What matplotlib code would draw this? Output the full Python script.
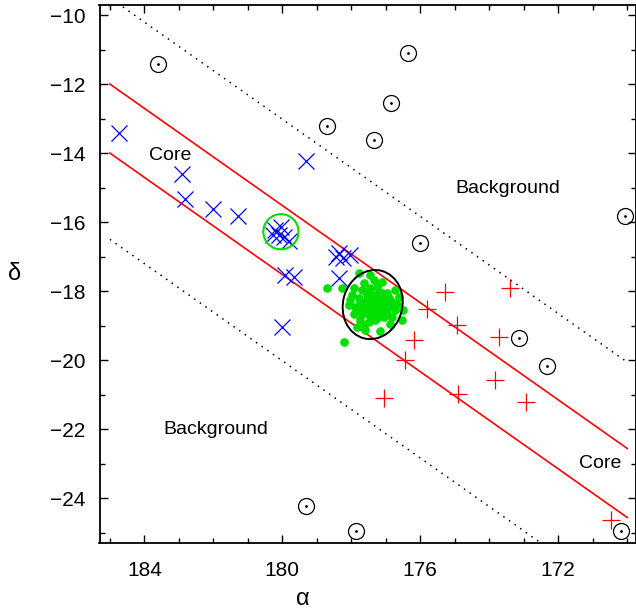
import matplotlib
matplotlib.use("Agg")
import matplotlib.pyplot as plt
from matplotlib.patches import Ellipse, Circle
from matplotlib.ticker import MultipleLocator
import numpy as np

plt.rcParams['font.family'] = ['Liberation Sans', 'DejaVu Sans']

# Background objects (circled dots)
bg_ra = [183.60, 178.70, 177.35, 176.37, 176.85, 176.00, 170.06, 173.13, 172.33, 170.17, 179.30, 177.86]
bg_dec = [-11.43, -13.22, -13.62, -11.09, -12.56, -16.62, -15.83, -19.35, -20.17, -24.95, -24.23, -24.95]

# Blue crosses
blue_ra = [184.74, 182.91, 182.81, 182.02, 181.28, 179.30,
           180.20, 180.04, 180.11, 179.96, 179.82, 180.27,
           179.91, 179.65, 178.37,
           178.45, 178.25, 178.05, 178.35, 180.01]
blue_dec = [-13.43, -14.61, -15.33, -15.63, -15.83, -14.23,
            -16.23, -16.14, -16.38, -16.44, -16.54, -16.38,
            -17.54, -17.58, -17.63,
            -17.00, -17.05, -16.95, -16.90, -19.05]

# Red pluses
red_ra = [175.28, 173.39, 175.81, 174.94, 176.19, 173.73, 176.43, 173.84, 174.92, 172.94, 177.06, 170.47]
red_dec = [-18.04, -17.92, -18.52, -18.99, -19.42, -19.34, -20.00, -20.58, -20.97, -21.21, -21.11, -24.64]

# Green cluster members
green_ra = [178.69, 178.27, 177.79, 177.45, 177.35, 177.11, 177.64, 177.93, 177.69, 177.45,
            177.21, 176.97, 176.73, 176.63, 176.82, 177.06, 177.31, 177.55, 177.79, 177.98,
            178.08, 177.89, 177.64, 177.40, 177.16, 176.92, 176.68, 176.50, 177.93, 177.69,
            177.45, 177.21, 176.97, 176.82, 177.74, 177.50, 177.31, 176.87, 176.53, 177.84,
            177.60, 177.16, 178.22, 177.55, 177.35, 177.11, 177.74, 177.60, 177.31, 177.06,
            177.50, 176.92, 177.26, 178.03, 176.73, 177.84, 177.40, 177.06, 177.64, 176.97,
            177.42, 177.28, 177.18, 177.52, 177.36, 177.24, 177.48, 177.12, 177.00, 177.38,
            177.58, 177.30, 177.44, 177.20, 177.66, 177.02, 177.34, 177.50, 177.26, 177.14]
green_dec = [-17.92, -17.92, -17.47, -17.53, -17.68, -17.73, -17.78, -17.92, -17.97, -17.92,
             -18.02, -18.07, -17.97, -18.16, -18.31, -18.26, -18.16, -18.11, -18.21, -18.11,
             -18.40, -18.45, -18.36, -18.36, -18.45, -18.45, -18.36, -18.55, -18.65, -18.65,
             -18.60, -18.65, -18.65, -18.74, -18.84, -18.89, -18.84, -18.94, -18.84, -19.03,
             -19.13, -19.16, -19.47, -18.26, -18.45, -18.07, -18.31, -18.55, -18.31, -18.55,
             -18.02, -18.21, -17.87, -18.26, -18.55, -18.55, -18.74, -18.74, -18.98, -18.36,
             -18.18, -18.22, -18.38, -18.40, -18.52, -18.60, -18.70, -18.62, -18.28, -18.10,
             -18.48, -18.42, -18.30, -18.14, -18.50, -18.56, -18.66, -18.24, -18.78, -18.34]

# Stream band model
band_ra = [185.0, 170.0]
band_dec0 = -13.0      # centre line at alpha = 185
band_slope = 0.704
core_half = 1.0
bg_half = 3.5

# Annotations
labels = ["Core", "Core", "Background", "Background"]
label_ra = [183.25, 170.78, 173.45, 181.94]
label_dec = [-14.06, -23.01, -15.02, -22.00]

fig = plt.figure(figsize=(6.36, 6.12), dpi=100)
ax = fig.add_axes([99.5/636, 69/612, 536/636, 538/612])

ra = np.array(band_ra)
centre = band_dec0 + band_slope * (ra - 185.0)
for off in (core_half, -core_half):
    ax.plot(ra, centre + off, color='red', lw=1.2, zorder=2)
for off in (bg_half, -bg_half):
    ax.plot(ra, centre + off, color='black', lw=1.1, linestyle=(0, (1, 3.5)), zorder=2)

ax.plot(bg_ra, bg_dec, 'o', mfc='none', mec='black', ms=11.5, mew=0.9, zorder=3)
ax.plot(bg_ra, bg_dec, 'o', color='black', ms=1.0, zorder=3)

ax.plot(green_ra, green_dec, 'o', color='#00e000', ms=6.2, mew=0, zorder=3)
ax.plot(blue_ra, blue_dec, 'x', color='blue', ms=11.5, mew=0.9, zorder=4)
ax.plot(red_ra, red_dec, '+', color='red', ms=12.5, mew=0.9, zorder=4)

ax.add_patch(Ellipse((177.38, -18.39), width=1.72, height=2.02, angle=15,
                     fill=False, ec='black', lw=1.4, zorder=5))
ax.add_patch(Circle((180.04, -16.28), 0.51, fill=False, ec='#00e000', lw=1.5, zorder=5))

for t, x, y in zip(labels, label_ra, label_dec):
    ax.text(x, y, t, fontsize=14, ha='center', va='center')

ax.set_xlim(185.30, 169.76)
ax.set_ylim(-25.30, -9.71)
ax.xaxis.set_major_locator(MultipleLocator(4))
ax.xaxis.set_minor_locator(MultipleLocator(1))
ax.yaxis.set_major_locator(MultipleLocator(2))
ax.yaxis.set_minor_locator(MultipleLocator(1))
ax.tick_params(which='both', direction='in', top=True, right=True, labelsize=15, width=1)
ax.tick_params(which='major', length=6)
ax.tick_params(which='minor', length=3.5)
ax.tick_params(axis='y', pad=10)
ax.tick_params(axis='x', pad=13)
for s in ax.spines.values():
    s.set_linewidth(1.3)

ax.set_xlabel('α', fontsize=17, va='center')
ax.xaxis.set_label_coords(0.38, -0.104)
ax.set_ylabel('δ', fontsize=17, rotation=0, va='center')
ax.yaxis.set_label_coords(-0.158, 0.5)

fig.savefig('out.png', dpi=100)
